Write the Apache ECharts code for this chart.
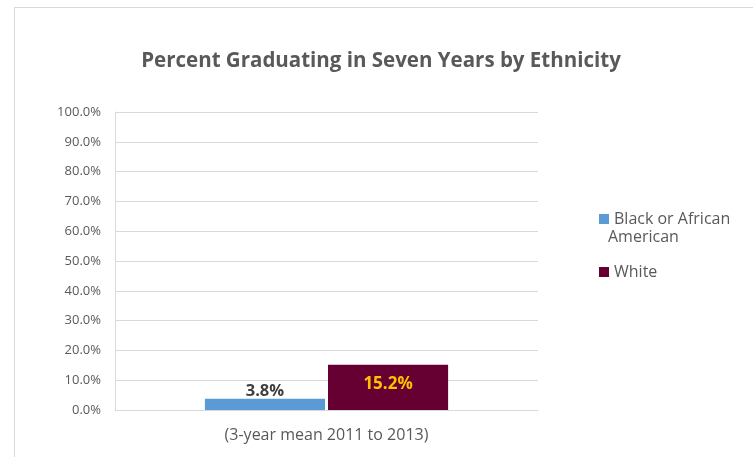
<!DOCTYPE html>
<html><head><meta charset="utf-8">
<script src="https://cdn.jsdelivr.net/npm/echarts@6/dist/echarts.min.js"></script>
<style>html,body{margin:0;padding:0;background:#fff}#c{width:753px;height:457px}</style>
</head><body><div id="c"></div>
<script>
const categories = ['(3-year mean 2011 to 2013)'];
const seriesNames = ['Black or African American', 'White'];
const blackValues = [3.8];
const whiteValues = [15.2];
const yTicks = [0, 10, 20, 30, 40, 50, 60, 70, 80, 90, 100];

const chart = echarts.init(document.getElementById('c'));
const font = '"Open Sans", "Liberation Sans", sans-serif';
const legendText = {fontFamily: font, fontSize: 16, color: '#595959'};
chart.setOption({
  animation: false,
  backgroundColor: '#fff',
  graphic: [
    {type: 'rect', shape: {x: 14.5, y: 7.5, width: 800, height: 500}, style: {fill: 'none', stroke: '#d9d9d9', lineWidth: 1}, z: -1},
    {type: 'text', left: 608, top: 229, style: {text: 'American', fontFamily: font, fontSize: 16, fill: '#595959'}}
  ],
  title: {text: 'Percent Graduating in Seven Years by Ethnicity', left: 376, top: 46, textAlign: 'center',
    textStyle: {fontFamily: font, fontSize: 20.5, fontWeight: 'bold', color: '#595959'}},
  legend: [
    {orient: 'vertical', left: 594, top: 206, itemWidth: 10, itemHeight: 10, itemGap: 5, icon: 'rect',
     data: [seriesNames[0]], formatter: () => 'Black or African', textStyle: legendText},
    {orient: 'vertical', left: 594, top: 259, itemWidth: 10, itemHeight: 10, icon: 'rect',
     data: [seriesNames[1]], textStyle: legendText}
  ],
  grid: {left: 115, right: 215, top: 112, bottom: 47},
  xAxis: {type: 'category', data: categories,
    axisLine: {lineStyle: {color: '#d9d9d9'}}, axisTick: {show: false},
    axisLabel: {fontFamily: font, fontSize: 16, color: '#595959', margin: 17}},
  yAxis: {type: 'value', min: 0, max: 100, interval: 10,
    axisLine: {show: true, lineStyle: {color: '#d9d9d9'}},
    splitLine: {lineStyle: {color: '#d9d9d9'}},
    axisLabel: {fontFamily: font, fontSize: 13, color: '#595959', margin: 14,
      formatter: v => yTicks.includes(v) ? v.toFixed(1) + '%' : ''}},
  series: [
    {name: seriesNames[0], type: 'bar', data: blackValues, barGap: '2.5%', barCategoryGap: '42.5%',
     itemStyle: {color: '#5B9BD5'},
     label: {show: true, position: 'top', distance: -1, formatter: p => p.value.toFixed(1) + '%',
       fontFamily: font, fontSize: 16.5, fontWeight: 'bold', color: '#404040'}},
    {name: seriesNames[1], type: 'bar', data: whiteValues,
     itemStyle: {color: '#660033'},
     label: {show: true, position: 'insideTop', distance: 11, formatter: p => p.value.toFixed(1) + '%',
       fontFamily: font, fontSize: 17, fontWeight: 'bold', color: '#FFC000'}}
  ]
});
</script></body></html>
